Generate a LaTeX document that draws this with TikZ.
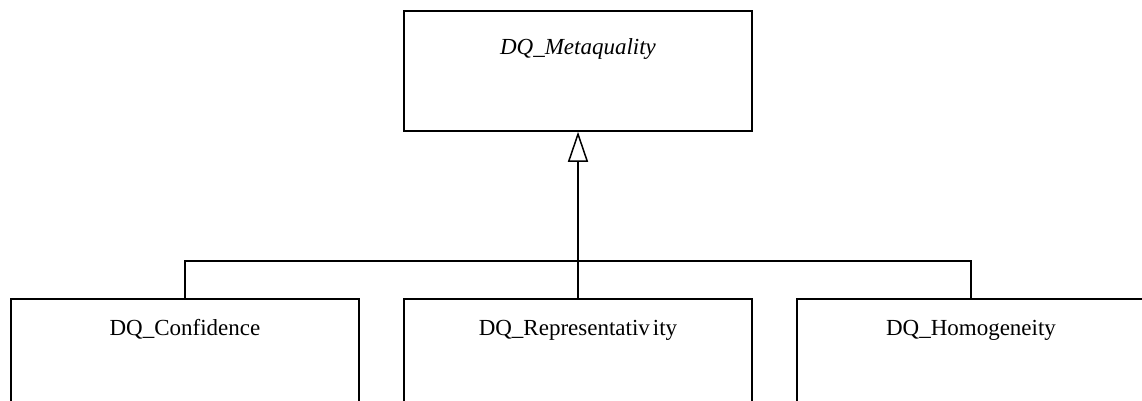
\documentclass[tikz,border=0pt]{standalone}
\usepackage{fontspec}
\setmainfont{Liberation Serif}
\usetikzlibrary{arrows.meta}
\begin{document}
\begin{tikzpicture}[x=1pt,y=1pt,
  classbox/.style={draw, line width=1.5pt, minimum width=348pt, minimum height=120pt, inner sep=0pt},
  classname/.style={anchor=base, inner sep=0pt, font=\fontsize{23}{26}\selectfont},
  link/.style={line width=1.5pt},
  genarrow/.style={link, -{Triangle[open, length=30pt, width=20pt, line width=1.5pt]}}]
  \useasboundingbox (0,0) rectangle (1142,-401);
  \clip (0,0) rectangle (1142,-401);

  % abstract parent class
  \node[classbox] (meta) at (578,-71) {};
  \node[classname, font=\fontsize{23}{26}\selectfont\itshape] (metaname) at (578,-55) {DQ\_Metaquality};

  % child classes (cut off at the bottom)
  \node[classbox] (conf) at (185,-359) {};
  \node[classname] (confname) at (185,-335) {DQ\_Confidence};
  \node[classbox] (rep) at (578,-359) {};
  \node[classname] (repname) at (578,-335) {DQ\_Representativ\kern3pt ity};
  \node[classbox] (hom) at (971,-359) {};
  \node[classname] (homname) at (971,-335) {DQ\_Homogeneity};

  % generalisation tree
  \coordinate (bus) at (578,-261);
  \draw[link] (conf.north) |- (bus) -| (hom.north);
  \draw[link] (rep.north) -- (bus);
  \draw[genarrow] (bus) -- (meta.south);
\end{tikzpicture}
\end{document}
